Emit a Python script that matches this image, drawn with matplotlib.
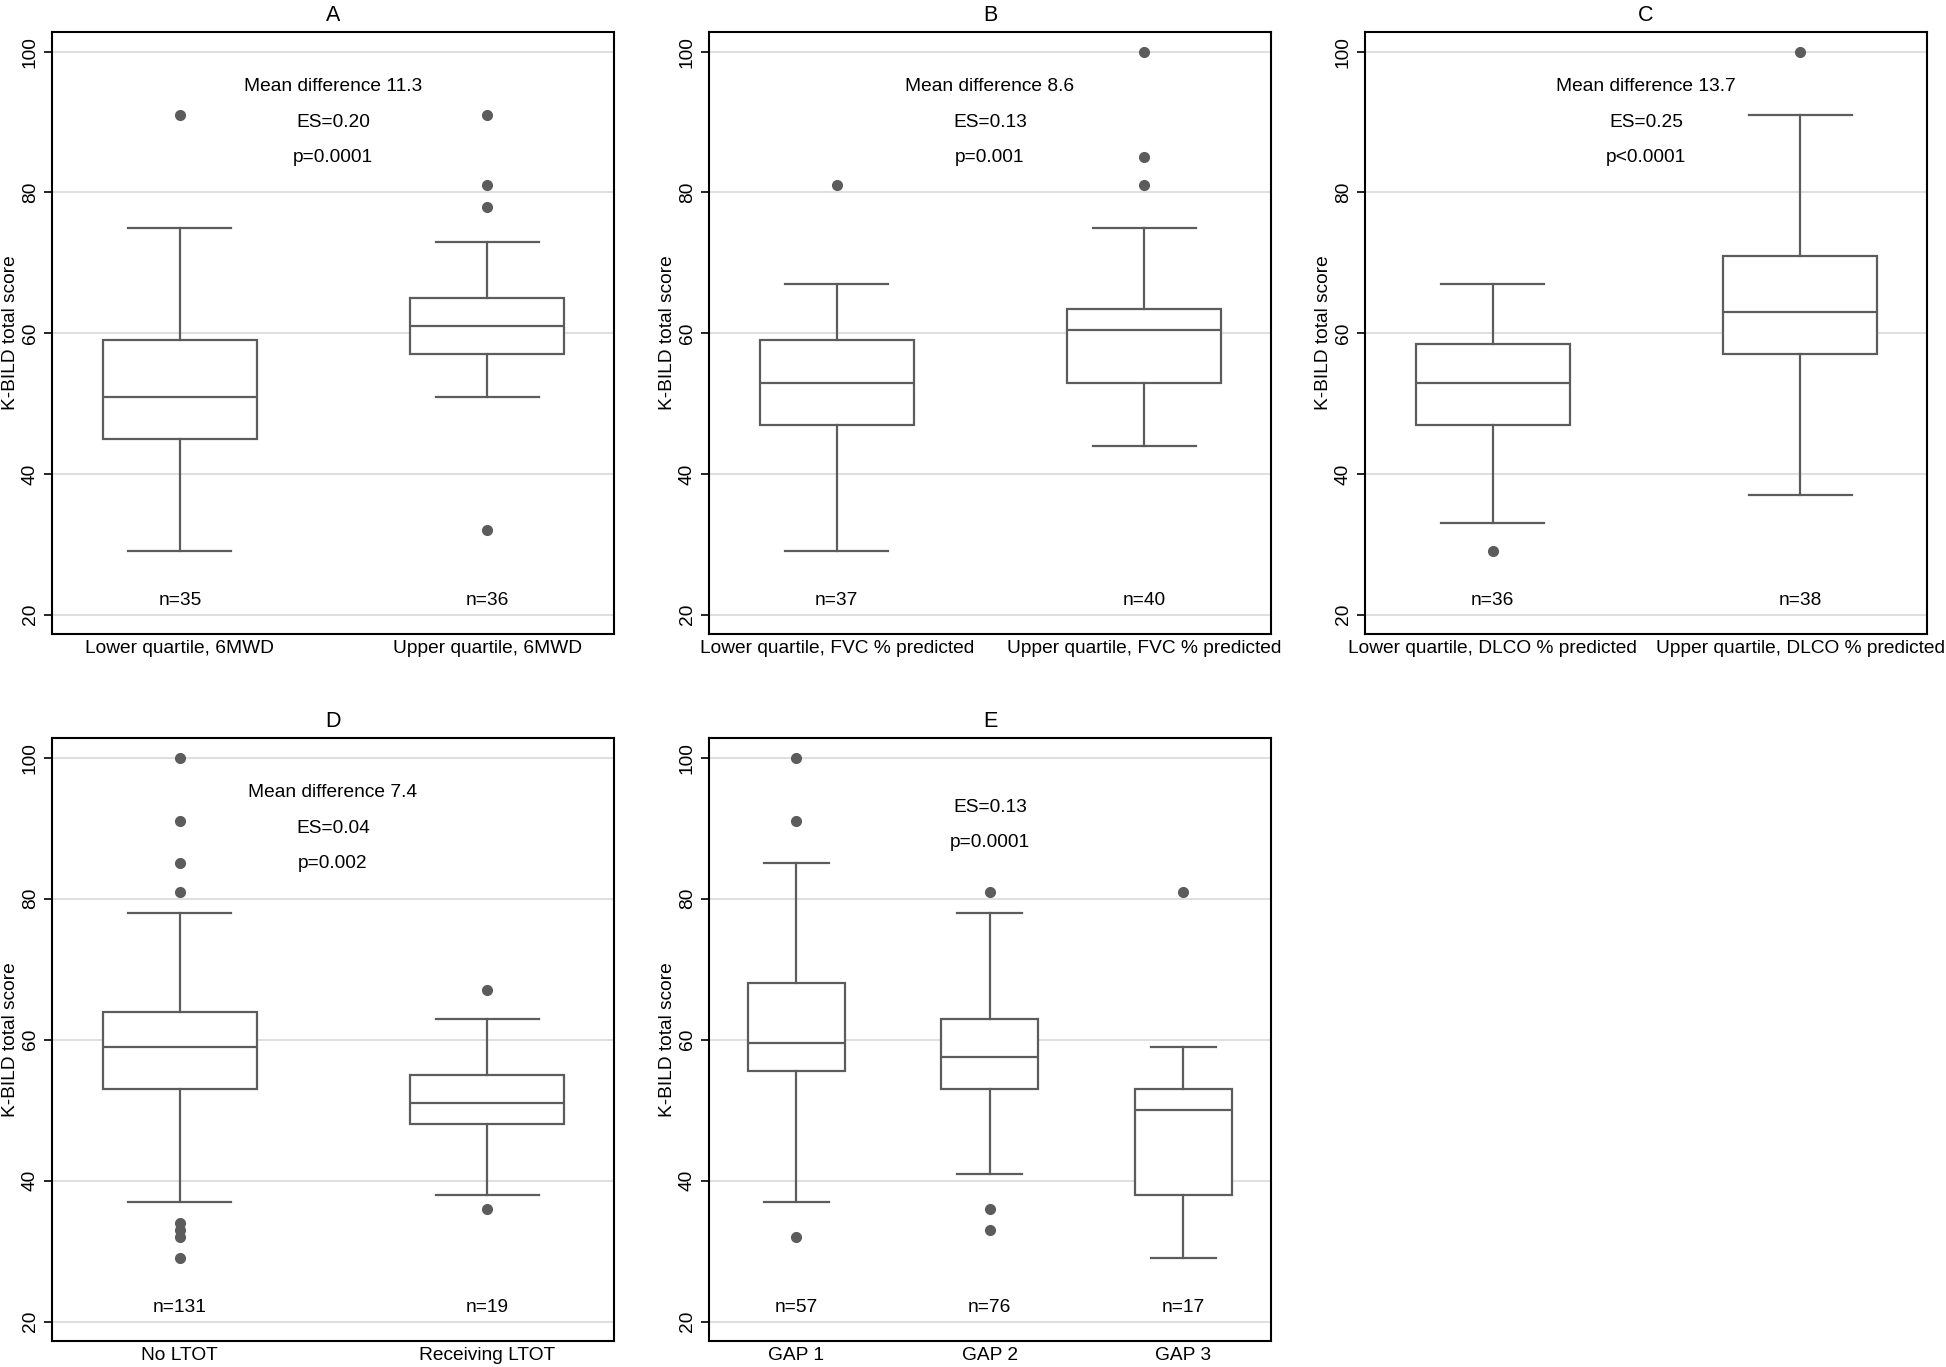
import matplotlib
matplotlib.use("Agg")
import matplotlib.pyplot as plt

plt.rcParams['font.family'] = ['Liberation Sans', 'DejaVu Sans']

# Panel A - 6MWD quartiles
a_labels = ['Lower quartile, 6MWD', 'Upper quartile, 6MWD']
a_q1 = [45, 57]
a_med = [51, 61]
a_q3 = [59, 65]
a_lo = [29, 51]
a_hi = [75, 73]
a_fliers = [[91], [91, 81, 78, 32]]
a_n = [35, 36]
a_notes = ['Mean difference 11.3', 'ES=0.20', 'p=0.0001']
a_note_y = [95, 90, 85]

# Panel B - FVC quartiles
b_labels = ['Lower quartile, FVC % predicted', 'Upper quartile, FVC % predicted']
b_q1 = [47, 53]
b_med = [53, 60.5]
b_q3 = [59, 63.5]
b_lo = [29, 44]
b_hi = [67, 75]
b_fliers = [[81], [100, 85, 81]]
b_n = [37, 40]
b_notes = ['Mean difference 8.6', 'ES=0.13', 'p=0.001']
b_note_y = [95, 90, 85]

# Panel C - DLCO quartiles
c_labels = ['Lower quartile, DLCO % predicted', 'Upper quartile, DLCO % predicted']
c_q1 = [47, 57]
c_med = [53, 63]
c_q3 = [58.5, 71]
c_lo = [33, 37]
c_hi = [67, 91]
c_fliers = [[29], [100]]
c_n = [36, 38]
c_notes = ['Mean difference 13.7', 'ES=0.25', 'p<0.0001']
c_note_y = [95, 90, 85]

# Panel D - LTOT
d_labels = ['No LTOT', 'Receiving LTOT']
d_q1 = [53, 48]
d_med = [59, 51]
d_q3 = [64, 55]
d_lo = [37, 38]
d_hi = [78, 63]
d_fliers = [[100, 91, 85, 81, 34, 33, 32, 29], [67, 36]]
d_n = [131, 19]
d_notes = ['Mean difference 7.4', 'ES=0.04', 'p=0.002']
d_note_y = [95, 90, 85]

# Panel E - GAP stage
e_labels = ['GAP 1', 'GAP 2', 'GAP 3']
e_q1 = [55.5, 53, 38]
e_med = [59.5, 57.5, 50]
e_q3 = [68, 63, 53]
e_lo = [37, 41, 29]
e_hi = [85, 78, 59]
e_fliers = [[100, 91, 32], [81, 36, 33], [81]]
e_n = [57, 76, 17]
e_notes = ['ES=0.13', 'p=0.0001']
e_note_y = [93, 88]

panels = [
    ('A', a_labels, a_q1, a_med, a_q3, a_lo, a_hi, a_fliers, a_n, a_notes, a_note_y),
    ('B', b_labels, b_q1, b_med, b_q3, b_lo, b_hi, b_fliers, b_n, b_notes, b_note_y),
    ('C', c_labels, c_q1, c_med, c_q3, c_lo, c_hi, c_fliers, c_n, c_notes, c_note_y),
    ('D', d_labels, d_q1, d_med, d_q3, d_lo, d_hi, d_fliers, d_n, d_notes, d_note_y),
    ('E', e_labels, e_q1, e_med, e_q3, e_lo, e_hi, e_fliers, e_n, e_notes, e_note_y),
]

W, H = 1946, 1367
# axes boxes in pixels: left, top, right, bottom
boxes_px = [(52, 32, 614, 634), (709, 32, 1271, 634), (1365, 32, 1927, 634),
            (52, 738, 614, 1341), (709, 738, 1271, 1341)]

gray = '#5c5c5c'
fs = 13.8
fig = plt.figure(figsize=(W / 100, H / 100), dpi=100)

for (title, labels, q1, med, q3, lo, hi, fliers, n, notes, note_y), (l, t, r, b) in zip(panels, boxes_px):
    ax = fig.add_axes([l / W, 1 - b / H, (r - l) / W, (b - t) / H])
    stats = []
    for i in range(len(labels)):
        stats.append({'q1': q1[i], 'med': med[i], 'q3': q3[i], 'whislo': lo[i],
                      'whishi': hi[i], 'fliers': fliers[i], 'label': labels[i]})
    k = len(labels)
    pos = list(range(1, k + 1))
    line = dict(color=gray, linewidth=1.6)
    ax.bxp(stats, positions=pos, widths=0.5, capwidths=0.335, patch_artist=True,
           boxprops=dict(facecolor='white', edgecolor=gray, linewidth=1.6),
           whiskerprops=line, capprops=line, medianprops=line,
           flierprops=dict(marker='o', markerfacecolor=gray, markeredgecolor=gray,
                           markersize=7))
    if k == 2:
        ax.set_xlim(0.584, 2.413)
    else:
        ax.set_xlim(0.548, 3.454)
    ax.set_ylim(17.27, 102.8)
    ax.set_yticks([20, 40, 60, 80, 100])
    ax.tick_params(axis='y', labelrotation=90, labelsize=fs, length=5.5, width=1.2, pad=4)
    for lab in ax.get_yticklabels():
        lab.set_va('center')
    ax.tick_params(axis='x', length=0, labelsize=fs, pad=4)
    ax.yaxis.grid(True, color='#dcdcdc', linewidth=1.3)
    ax.set_axisbelow(True)
    for s in ax.spines.values():
        s.set_linewidth(1.5)
    ax.set_ylabel('K-BILD total score', fontsize=fs, labelpad=2)
    ax.set_title(title, fontsize=15.5, pad=8)

    # x in axes fraction, y in data units
    for txt, y in zip(notes, note_y):
        ax.text(0.5, y, txt, transform=ax.get_yaxis_transform(), fontsize=fs,
                ha='center', va='center')
    for p, cnt in zip(pos, n):
        ax.text(p, 22, f'n={cnt}', ha='center', va='center', fontsize=fs)

fig.savefig('out.png', dpi=100)
